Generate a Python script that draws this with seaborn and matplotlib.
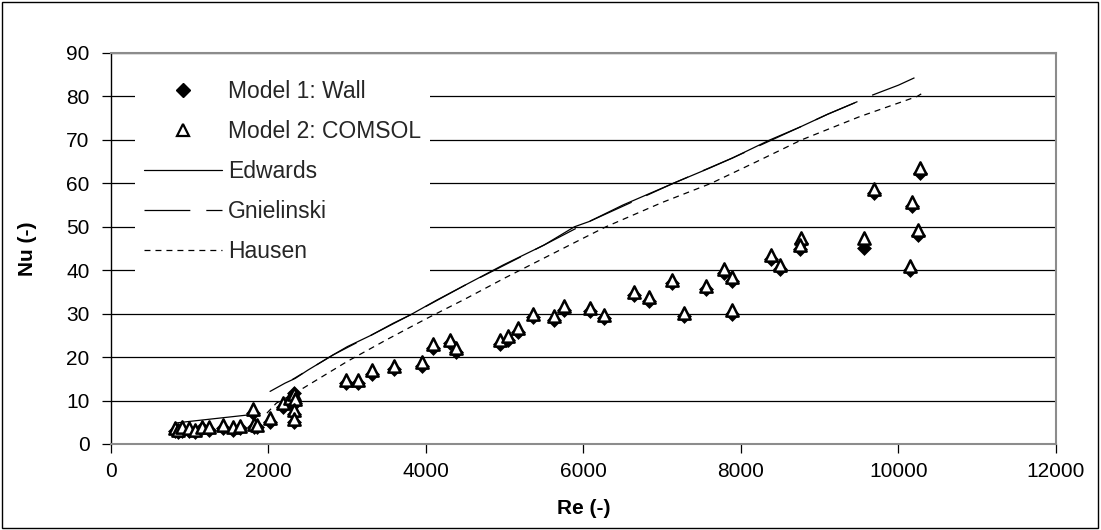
import numpy as np
import pandas as pd
import matplotlib
matplotlib.use("Agg")
import matplotlib.pyplot as plt
import seaborn as sns
from matplotlib.lines import Line2D
from matplotlib.patches import Rectangle

# ---------------- data ----------------
re_data = [813, 850, 900, 985, 1070, 1150, 1240, 1420, 1550, 1640, 1800, 1810, 1860,
           2020, 2180, 2270, 2330, 2340, 2330, 2330, 2985, 3140, 3320, 3590, 3945,
           4095, 4305, 4380, 4940, 5045, 5170, 5355, 5625, 5755, 6085, 6260, 6645,
           6835, 7130, 7280, 7550, 7785, 7890, 7890, 8385, 8495, 8760, 8750, 9565,
           9693, 10146, 10175, 10252, 10277]
nu_model2 = [3.6, 3.3, 3.8, 3.7, 3.3, 4.0, 3.8, 4.3, 3.9, 4.2, 8.0, 4.7, 4.4,
             5.9, 9.5, 10.6, 11.5, 10.3, 7.9, 5.7, 14.8, 14.8, 17.0, 18.0, 18.8,
             23.0, 24.0, 22.0, 24.0, 24.8, 26.6, 30.0, 29.4, 31.7, 31.3, 29.8, 35.0,
             33.9, 37.7, 30.2, 36.3, 40.3, 38.5, 30.8, 43.6, 41.2, 47.3, 45.8, 47.3,
             58.8, 40.9, 55.8, 49.2, 63.5]
nu_model1 = [3.0, 2.8, 3.1, 3.1, 2.8, 3.6, 3.2, 3.7, 3.3, 3.6, 7.2, 4.0, 3.8,
             5.1, 8.6, 9.6, 11.7, 9.4, 7.0, 5.0, 14.1, 14.1, 16.2, 17.2, 18.0,
             22.2, 23.2, 21.2, 23.0, 23.9, 25.7, 29.3, 28.6, 30.9, 30.5, 28.9, 34.2,
             33.0, 37.0, 29.4, 35.6, 39.4, 37.5, 29.9, 42.6, 40.2, 46.3, 44.9, 45.0,
             57.8, 40.0, 54.8, 48.2, 62.4]

edw_re = [810, 1000, 1200, 1400, 1600, 1850,
          2020, 2210, 2340, 2500, 2820, 3000, 3300, 3585, 3800, 4135, 4500, 4980,
          5500, 5886, 6072, 6500, 7140, 7600, 7888, 8368, 8743, 9100, 9440]
edw_nu = [4.8, 5.2, 5.6, 6.0, 6.4, 6.9,
          12.1, 14.0, 15.1, 17.0, 20.5, 22.4, 25.0, 27.8, 29.7, 33.1, 36.6, 41.2,
          45.8, 50.0, 51.2, 55.0, 60.0, 63.5, 65.8, 70.0, 72.9, 75.9, 78.5]
edw_seg = [0] * 6 + [1] * 23

gni_re = [2300, 2820, 3300, 3800, 4500, 5500, 6072, 7140, 7888, 8743, 9100, 9440,
          9624, 10000, 10276]
gni_nu = [14.8, 20.5, 25.0, 29.7, 36.6, 45.8, 51.2, 60.0, 65.8, 72.9, 75.9, 78.5,
          80.0, 82.6, 84.9]

hau_re = [1980, 2100, 2400, 2800, 3000, 3500, 4000, 4500, 5000, 5500, 6000, 6286,
          7000, 7621, 8200, 8769, 9500, 10237, 10290]
hau_nu = [7.1, 9.4, 12.4, 16.8, 19.0, 24.0, 28.8, 33.4, 38.2, 42.8, 47.4, 50.0,
          55.6, 60.0, 65.0, 70.0, 75.3, 80.0, 80.6]

x_ticks = [0, 2000, 4000, 6000, 8000, 10000, 12000]
y_ticks = [0, 10, 20, 30, 40, 50, 60, 70, 80, 90]
labels = ["Model 1: Wall", "Model 2: COMSOL", "Edwards", "Gnielinski", "Hausen"]

# ---------------- style ----------------
sns.set_theme(style="white")
plt.rcParams['font.family'] = ['Liberation Sans', 'DejaVu Sans']
plt.rcParams['lines.scale_dashes'] = False

fig = plt.figure(figsize=(11.01, 5.30), dpi=100)
ax = fig.add_axes([0.1008, 0.1623, 0.8583, 0.7377])

df_m1 = pd.DataFrame({"Re": re_data, "Nu": nu_model1})
df_m2 = pd.DataFrame({"Re": re_data, "Nu": nu_model2})
df_edw = pd.DataFrame({"Re": edw_re, "Nu": edw_nu, "seg": edw_seg})
df_gni = pd.DataFrame({"Re": gni_re, "Nu": gni_nu})
df_hau = pd.DataFrame({"Re": hau_re, "Nu": hau_nu})

ls_gni_plot = (24, (33, 11.5))
ls_gni = (0, (33, 11.5))
ls_hau = (0, (4.3, 3.6))

sns.lineplot(data=df_edw, x="Re", y="Nu", units="seg", estimator=None, sort=False,
             color="black", lw=0.9, ax=ax, legend=False, zorder=2)
sns.lineplot(data=df_gni, x="Re", y="Nu", estimator=None, sort=False,
             color="black", lw=0.9, ax=ax, legend=False, zorder=2)
ax.lines[-1].set_linestyle(ls_gni_plot)
sns.lineplot(data=df_hau, x="Re", y="Nu", estimator=None, sort=False,
             color="black", lw=0.9, ax=ax, legend=False, zorder=2)
ax.lines[-1].set_linestyle(ls_hau)

sns.scatterplot(data=df_m1, x="Re", y="Nu", marker="D", s=50, color="black",
                edgecolor="black", linewidth=0.5, ax=ax, legend=False, zorder=3)
sns.scatterplot(data=df_m2, x="Re", y="Nu", marker="^", s=78, color="white",
                edgecolor="black", linewidth=1.8, ax=ax, legend=False, zorder=4)

ax.set_xlim(0, 12000)
ax.set_ylim(0, 90)
ax.set_xticks(x_ticks)
ax.set_yticks(y_ticks)
ax.yaxis.grid(True, color="black", lw=0.9)
ax.xaxis.grid(False)
ax.set_axisbelow(True)

for side in ["top", "right", "bottom"]:
    ax.spines[side].set_color("#8c8c8c")
    ax.spines[side].set_linewidth(1.5)
ax.spines["left"].set_color("black")
ax.spines["left"].set_linewidth(1.0)

ax.tick_params(axis="both", direction="out", length=6.5, width=0.9, color="black",
               labelsize=15, labelcolor="black")
ax.tick_params(axis="x", bottom=True, pad=6.5)
ax.tick_params(axis="y", left=True, pad=9)

ax.set_xlabel("Re (-)", fontsize=15, fontweight="bold", color="black")
ax.set_ylabel("Nu (-)", fontsize=15, fontweight="bold", color="black")
ax.xaxis.set_label_coords(0.5, -0.14)
ax.yaxis.set_label_coords(-0.078, 0.5)

handles = [
    Line2D([], [], marker="D", linestyle="none", markerfacecolor="black",
           markeredgecolor="black", markersize=7),
    Line2D([], [], marker="^", linestyle="none", markerfacecolor="white",
           markeredgecolor="black", markersize=9, markeredgewidth=1.6),
    Line2D([], [], color="black", lw=0.9),
    Line2D([], [], color="black", lw=0.9, linestyle=ls_gni),
    Line2D([], [], color="black", lw=0.9, linestyle=ls_hau),
]
leg = ax.legend(handles, labels, loc="upper left", bbox_to_anchor=(0.0254, 0.954),
                fontsize=16.5, frameon=True, fancybox=False, framealpha=1,
                facecolor="white", edgecolor="none", handlelength=3.4,
                handletextpad=0.25, labelspacing=0.74, borderpad=0.4,
                borderaxespad=0)
leg.set_zorder(5)

fig.patches.append(Rectangle((0.002, 0.003), 0.995, 0.994, transform=fig.transFigure,
                             fill=False, edgecolor="black", lw=1.0))

fig.savefig("out.png", dpi=100)
